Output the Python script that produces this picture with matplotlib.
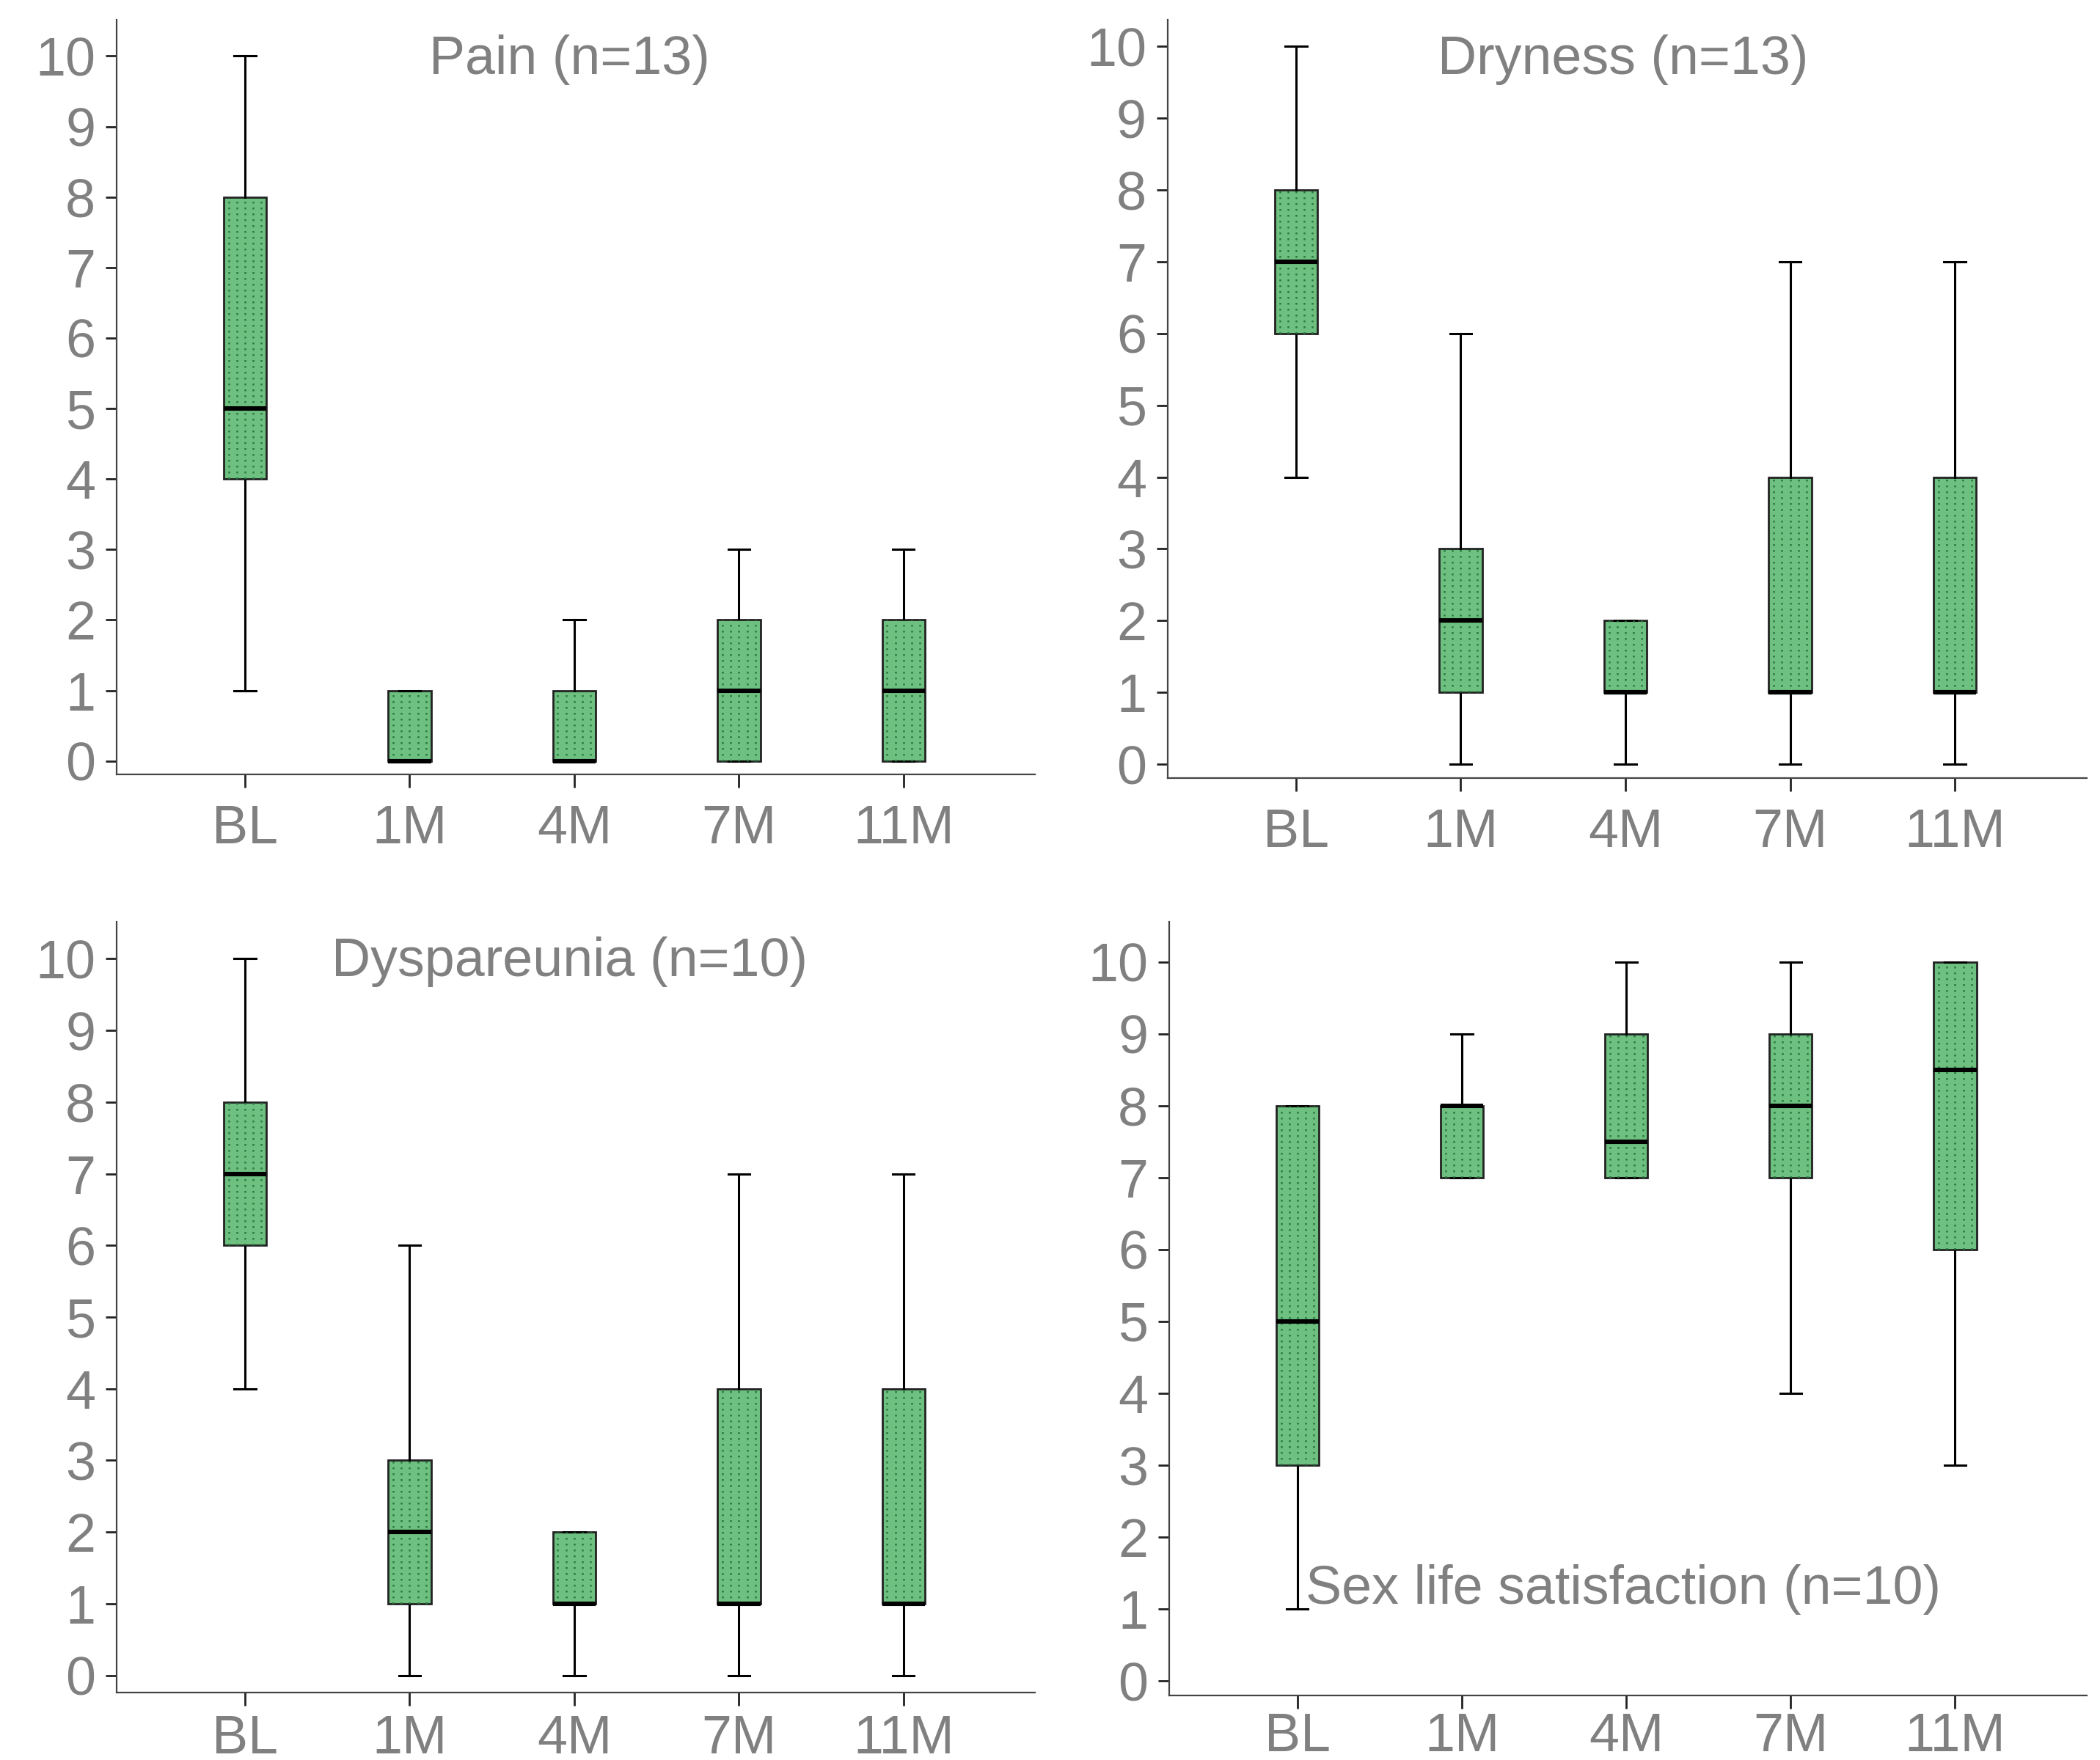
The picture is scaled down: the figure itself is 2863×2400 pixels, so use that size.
import matplotlib.pyplot as plt

plt.rcParams['font.family'] = ['Liberation Sans', 'DejaVu Sans']

groups = ['BL', '1M', '4M', '7M', '11M']

# (whisker low, q1, median, q3, whisker high) per time point
pain = [(1, 4, 5, 8, 10), (0, 0, 0, 1, 1), (0, 0, 0, 1, 2), (0, 0, 1, 2, 3), (0, 0, 1, 2, 3)]
dryness = [(4, 6, 7, 8, 10), (0, 1, 2, 3, 6), (0, 1, 1, 2, 2), (0, 1, 1, 4, 7), (0, 1, 1, 4, 7)]
dyspareunia = [(4, 6, 7, 8, 10), (0, 1, 2, 3, 6), (0, 1, 1, 2, 2), (0, 1, 1, 4, 7), (0, 1, 1, 4, 7)]
satisfaction = [(1, 3, 5, 8, 8), (7, 7, 8, 8, 9), (7, 7, 7.5, 9, 10), (4, 7, 8, 9, 10), (3, 6, 8.5, 10, 10)]

titles = ['Pain (n=13)', 'Dryness (n=13)', 'Dyspareunia (n=10)', 'Sex life satisfaction (n=10)']
title_pos = [(0.493, 0.947), (0.496, 0.947), (0.493, 0.948), (0.495, 0.137)]

panels = [pain, dryness, dyspareunia, satisfaction]
axes_rect = [[0.0555, 0.560, 0.4375, 0.4286],
             [0.556, 0.558, 0.4376, 0.4308],
             [0.0555, 0.0383, 0.4375, 0.4381],
             [0.5568, 0.0367, 0.4368, 0.4397]]
ylims = [(-0.19, 10.51), (-0.19, 10.37), (-0.24, 10.52), (-0.2, 10.56)]
xpads = [8, 8, 4, 1.5]

face = '#6dc07f'
dots = '#2a7a40'
grey = '#808080'
box_w = 0.26

fig = plt.figure(figsize=(14.315, 12), dpi=200)

for i, data in enumerate(panels):
    ax = fig.add_axes(axes_rect[i])
    stats = []
    for j, (lo, q1, med, q3, hi) in enumerate(data):
        stats.append({'label': groups[j], 'whislo': lo, 'q1': q1, 'med': med,
                      'q3': q3, 'whishi': hi, 'fliers': []})
    ax.bxp(stats, positions=range(len(groups)), widths=box_w,
           patch_artist=True, showfliers=False,
           boxprops=dict(facecolor=face, edgecolor='#222222', linewidth=1.0),
           medianprops=dict(color='black', linewidth=2.2, zorder=4),
           whiskerprops=dict(color='black', linewidth=1.1),
           capprops=dict(color='black', linewidth=1.1),
           capwidths=0.13)
    # dotted texture inside the boxes
    for j, (lo, q1, med, q3, hi) in enumerate(data):
        for off in [-0.1, -0.05, 0, 0.05, 0.1]:
            ax.plot([j + off, j + off], [q1, q3], color=dots, lw=0.9,
                    linestyle=(0, (1, 2.2)), zorder=3)
    ax.set_xlim(-0.78, 4.8)
    ax.set_ylim(*ylims[i])
    ax.set_yticks(range(0, 11))
    ax.set_xticks(range(len(groups)))
    ax.set_xticklabels(groups)
    for s in ['top', 'right']:
        ax.spines[s].set_visible(False)
    for s in ['left', 'bottom']:
        ax.spines[s].set_color('#444444')
        ax.spines[s].set_linewidth(0.8)
    ax.tick_params(axis='y', length=5.4, width=1.0, color='#222222', pad=5,
                   labelsize=26.5, labelcolor=grey)
    ax.tick_params(axis='x', length=6.3, width=1.0, color='#222222', pad=xpads[i],
                   labelsize=26.5, labelcolor=grey)
    ax.text(title_pos[i][0], title_pos[i][1], titles[i], transform=ax.transAxes,
            ha='center', va='center', fontsize=26.5, color=grey)

fig.savefig('out.png', dpi=200)
